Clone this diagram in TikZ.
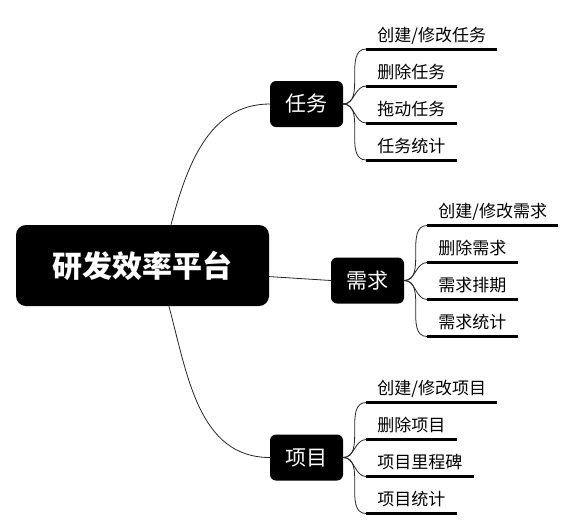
\documentclass[tikz,border=0pt]{standalone}
\usepackage{fontspec}
\setmainfont{Noto Sans CJK SC}
\usetikzlibrary{positioning,calc}

\begin{document}
\begin{tikzpicture}[x=1pt,y=-1pt,
    topic/.style={fill=black, text=white, rounded corners=6pt, minimum width=73pt, minimum height=46pt, font=\fontsize{21}{21}\selectfont},
    leaf/.style={anchor=south west, inner xsep=11pt, inner ysep=4.5pt, text depth=3pt, font=\fontsize{17}{17}\selectfont},
    link/.style={draw=black!85, line width=0.8pt}]
    \useasboundingbox (0,0) rectangle (576,531);
    \node [fill=black, text=white, rounded corners=10pt, minimum width=253pt, minimum height=81pt, font=\fontsize{30}{30}\selectfont\bfseries] (root) at (142.5,265.5) {研发效率平台};
    \node [topic] (renwu) at (306.5,104) {任务};
    \node [topic] (xuqiu) at (367.5,280.5) {需求};
    \node [topic] (xiangmu) at (306.5,457.5) {项目};

    % branches
    \draw [link] (root.55) to[out=75,in=180] (renwu.west);
    \draw [link] (root.-5) -- (xuqiu.west);
    \draw [link] (root.-57) to[out=-75,in=180] (xiangmu.west);

    % leaves
    \foreach \t [count=\i] in {{创建/修改任务},{删除任务},{拖动任务},{任务统计}} {
        \node [leaf] (renwu-\i) at ($(renwu.east)+(23,-92+37*\i)$) {\t};
        \draw [line width=3pt] (renwu-\i.south west) -- (renwu-\i.south east);
        \draw [link] (renwu.east) to[out=0,in=180] (renwu-\i.south west);
    }
    \foreach \t [count=\i] in {{创建/修改需求},{删除需求},{需求排期},{需求统计}} {
        \node [leaf] (xuqiu-\i) at ($(xuqiu.east)+(23,-92+37*\i)$) {\t};
        \draw [line width=3pt] (xuqiu-\i.south west) -- (xuqiu-\i.south east);
        \draw [link] (xuqiu.east) to[out=0,in=180] (xuqiu-\i.south west);
    }
    \foreach \t [count=\i] in {{创建/修改项目},{删除项目},{项目里程碑},{项目统计}} {
        \node [leaf] (xiangmu-\i) at ($(xiangmu.east)+(23,-92+37*\i)$) {\t};
        \draw [line width=3pt] (xiangmu-\i.south west) -- (xiangmu-\i.south east);
        \draw [link] (xiangmu.east) to[out=0,in=180] (xiangmu-\i.south west);
    }
\end{tikzpicture}
\end{document}
